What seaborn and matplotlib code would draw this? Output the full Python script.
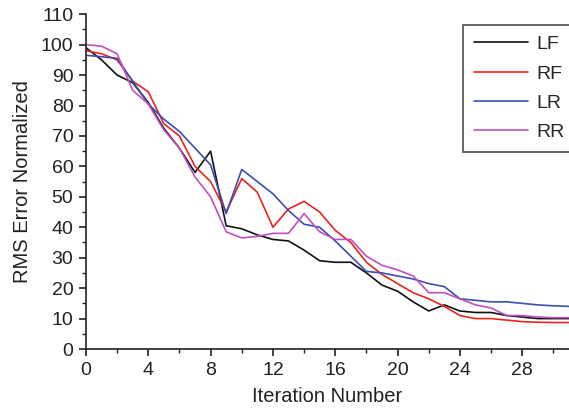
import numpy as np
import pandas as pd
import matplotlib
matplotlib.use('Agg')
import matplotlib.pyplot as plt
import seaborn as sns
from matplotlib.ticker import MultipleLocator

iterations = list(range(32))
lf = [99, 95, 90, 87.5, 81, 72.5, 66, 58, 65, 40.5, 39.5, 37.5, 36, 35.5, 32.5, 29,
      28.5, 28.5, 25, 21, 19, 15.5, 12.5, 14.5, 12.5, 12, 12, 11, 10.5, 10, 10, 10]
rf = [98, 97, 95, 88, 84.5, 74, 70, 60, 55, 45, 56, 51.5, 40, 46, 48.5, 45,
      39, 35, 28.5, 24.5, 21.5, 18.5, 16.5, 14, 11, 10, 10, 9.5, 9, 8.8, 8.7, 8.7]
lr = [96.5, 96, 95.5, 88, 80.5, 75.5, 71.5, 66, 60.5, 44.5, 59, 55, 51, 45.5, 41, 40,
      35.5, 30.5, 25.5, 25, 24, 23, 21.5, 20.5, 16.5, 16, 15.5, 15.5, 15, 14.5, 14.2, 14]
rr = [100, 99.5, 97, 85, 80.5, 72, 66, 56.5, 50, 38.5, 36.5, 37, 38, 38, 44.5, 38.5,
      36, 36, 30.5, 27.5, 26, 24, 18.5, 18.5, 16.5, 14.5, 13.5, 11, 11, 10.5, 10.3, 10.3]
series_names = ['LF', 'RF', 'LR', 'RR']
colors = ['#111111', '#e8251c', '#3a4fb0', '#c04fc0']

df = pd.DataFrame({'iter': iterations, 'LF': lf, 'RF': rf, 'LR': lr, 'RR': rr})
long_df = df.melt(id_vars='iter', var_name='leg', value_name='rms')

sns.set_style('ticks')
plt.rcParams['font.family'] = ['Liberation Sans', 'DejaVu Sans']

fig = plt.figure(figsize=(5.69, 4.17), dpi=100)
ax = fig.add_axes([0.151, 0.163, 0.849, 0.803])
sns.lineplot(data=long_df, x='iter', y='rms', hue='leg', hue_order=series_names,
             palette=colors, linewidth=1.2, ax=ax, legend=True)

ax.set_xlim(0, 31)
ax.set_ylim(0, 110)
ax.xaxis.set_major_locator(MultipleLocator(4))
ax.xaxis.set_minor_locator(MultipleLocator(2))
ax.yaxis.set_major_locator(MultipleLocator(10))
ax.yaxis.set_minor_locator(MultipleLocator(5))
ax.tick_params(which='major', direction='out', length=5, width=1.2, labelsize=14,
               colors='#222222', pad=4)
ax.tick_params(which='minor', direction='out', length=3, width=1.0, colors='#222222')
for s in ['left', 'bottom']:
    ax.spines[s].set_linewidth(1.2)
    ax.spines[s].set_color('#222222')
sns.despine(ax=ax)
ax.set_xlabel('Iteration Number', fontsize=14.5, color='#222222', labelpad=6)
ax.set_ylabel('RMS Error Normalized', fontsize=14.5, color='#222222', labelpad=6)

leg = ax.legend(loc='upper left', bbox_to_anchor=(463 / 569, 1 - 25 / 417),
                bbox_transform=fig.transFigure,
                frameon=True, fancybox=False, fontsize=14, handlelength=2.8,
                handletextpad=0.4, labelspacing=0.6, borderpad=0.55, borderaxespad=0)
leg.get_frame().set_edgecolor('#222222')
leg.get_frame().set_linewidth(1.2)
for line in leg.get_lines():
    line.set_linewidth(1.2)

fig.savefig('out.png', dpi=100)
